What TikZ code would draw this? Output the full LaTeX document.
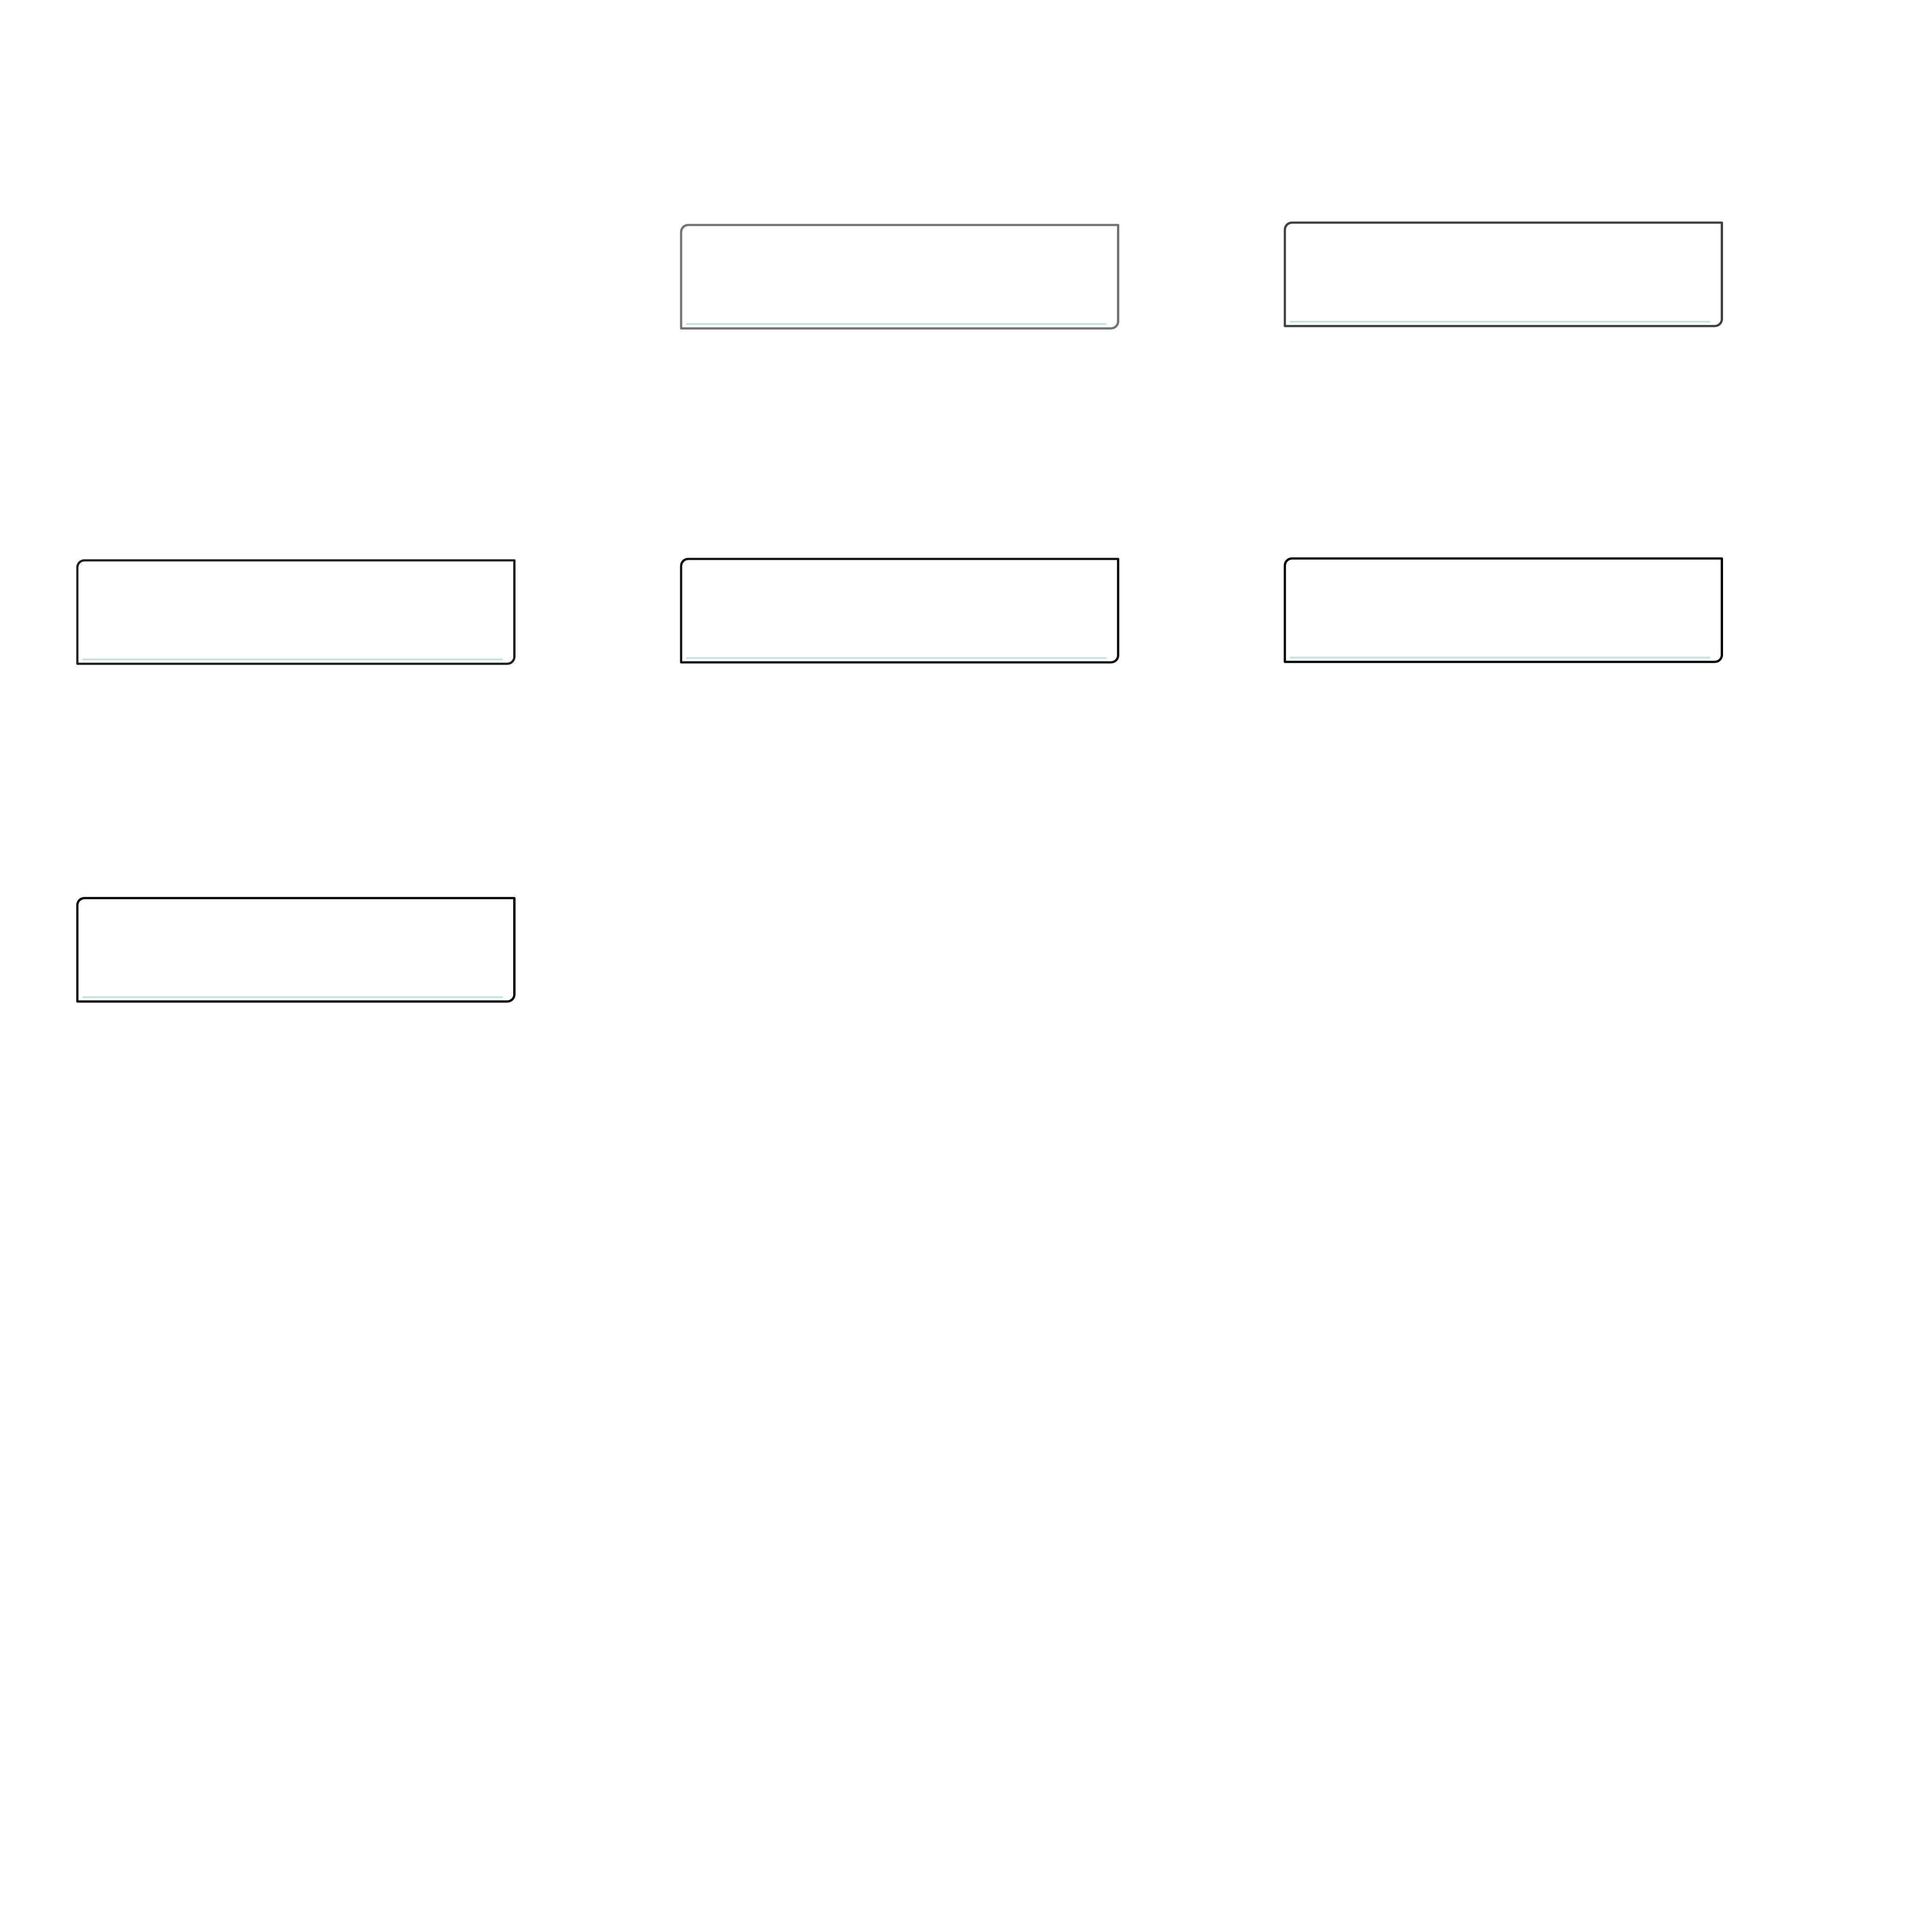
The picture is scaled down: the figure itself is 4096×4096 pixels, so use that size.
\documentclass[tikz,border=0pt]{standalone}
\usetikzlibrary{calc}
\definecolor{cardgray}{HTML}{737373}
\definecolor{carddark}{HTML}{404040}
\definecolor{cardnear}{HTML}{222222}
\definecolor{cardink}{HTML}{111111}
\definecolor{cardrule}{HTML}{C8E4E4}
\tikzset{
  card/.style={draw=none,inner sep=0pt,outer sep=0pt,minimum width=9.26cm,minimum height=2.19cm,anchor=north west},
  cardedge/.style={line width=1.35pt,line join=round},
  cardbase/.style={cardrule,line width=1.2pt,line cap=round}
}
\newcommand{\cardoutline}[2]{%
  \draw[cardedge,#2] ($(#1.north west)+(15,0)$) -- (#1.north east)
    -- ($(#1.south east)+(0,-15)$) arc[start angle=0,end angle=-90,radius=0.15cm]
    -- (#1.south west) -- ($(#1.north west)+(0,15)$)
    arc[start angle=180,end angle=90,radius=0.15cm] -- cycle;
  \draw[cardbase] ($(#1.south west)+(12,-9)$) -- ($(#1.south east)+(-26,-9)$);
}
\begin{document}
\begin{tikzpicture}[x=0.01cm,y=-0.01cm]
            \useasboundingbox (0,0) rectangle (4096,4096);
            \node[card] (topmid) at (1444,477) {};
            \node[card] (topright) at (2724,472) {};
            \node[card] (midleft) at (164,1188) {};
            \node[card] (midmid) at (1444,1185) {};
            \node[card] (midright) at (2724,1184) {};
            \node[card] (botleft) at (164,1904) {};
            \cardoutline{topmid}{cardgray}
            \cardoutline{topright}{carddark}
            \cardoutline{midleft}{cardnear}
            \cardoutline{midmid}{cardink}
            \cardoutline{midright}{black}
            \cardoutline{botleft}{black}
        \end{tikzpicture}
\end{document}
